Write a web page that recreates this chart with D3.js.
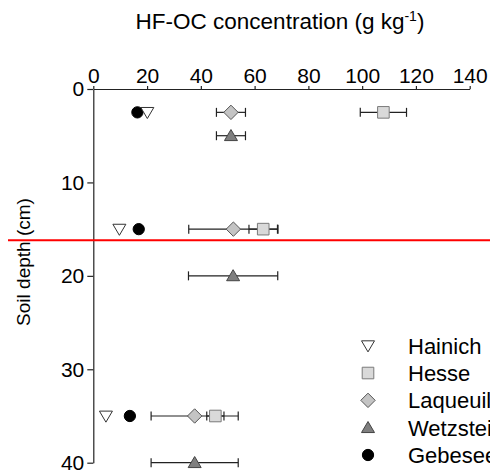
<!DOCTYPE html>
<html>
<head>
<meta charset="utf-8">
<script src="https://cdn.jsdelivr.net/npm/d3@7"></script>
<style>
  html, body { margin: 0; padding: 0; background: #fff; }
  svg { display: block; overflow: hidden; }
  text { font-family: "Liberation Sans", Arial, sans-serif; fill: #000; }
</style>
</head>
<body>
<svg id="chart" width="490" height="476"></svg>
<script>
// HF-OC concentration by soil depth for five sites
const xTicks = [0, 20, 40, 60, 80, 100, 120, 140];
const yTicks = [0, 10, 20, 30, 40];

const hainichDepth = [2.5, 15, 35];
const hainichValue = [20.1, 9.7, 4.7];

const gebeseeDepth = [2.5, 15, 35];
const gebeseeValue = [16.4, 16.9, 13.6];

const laqueuilleDepth = [2.5, 15, 35];
const laqueuilleValue = [51.2, 52.1, 37.7];
const laqueuilleErr = [5.4, 16.6, 16.2];

const hesseDepth = [2.5, 15, 35];
const hesseValue = [107.9, 63.2, 45.4];
const hesseErr = [8.6, 5.3, 3.2];

const wetzsteinDepth = [5, 20, 40];
const wetzsteinValue = [51.2, 52.0, 37.7];
const wetzsteinErr = [5.4, 16.6, 16.2];

const legendNames = ["Hainich", "Hesse", "Laqueuille", "Wetzstein", "Gebesee"];
const markerDepth = 16.2;

const svg = d3.select("#chart");
const W = 490;

const x = d3.scaleLinear().domain([0, 140]).range([93.3, 469.7]);
const y = d3.scaleLinear().domain([0, 40]).range([89, 462.7]);

const TICK_FS = 21;
const LABEL_FS = 22;

// axes
const xAxis = svg.append("g")
  .attr("transform", `translate(0,${y(0)})`)
  .call(d3.axisTop(x).tickValues(xTicks).tickSizeInner(3).tickSizeOuter(0).tickPadding(3));
const yAxis = svg.append("g")
  .attr("transform", `translate(${x(0)},0)`)
  .call(d3.axisLeft(y).tickValues(yTicks).tickSizeInner(6).tickSizeOuter(0).tickPadding(3));
[xAxis, yAxis].forEach(g => {
  g.selectAll("path, line").attr("stroke", "#222").attr("stroke-width", 1.2);
  g.selectAll("text").style("font-size", TICK_FS + "px").style("font-family", "'Liberation Sans', Arial, sans-serif").attr("fill", "#000");
});

// titles
const title = svg.append("text")
  .attr("x", 280).attr("y", 29)
  .attr("text-anchor", "middle").style("font-size", "22.5px");
title.append("tspan").text("HF-OC concentration (g kg");
title.append("tspan").text("-1").attr("dy", -8).style("font-size", "14px");
title.append("tspan").text(")").attr("dy", 8);

svg.append("text")
  .attr("transform", `translate(30,${262}) rotate(-90)`)
  .attr("text-anchor", "middle").style("font-size", "19px")
  .text("Soil depth (cm)");

// marker shapes
const sym = {
  triDown: d => { const s = 6.5; return `M${-s},${-s * 0.75}L${s},${-s * 0.75}L0,${s * 0.95}Z`; },
  triUp: d => { const s = 6.5; return `M${-s},${s * 0.75}L${s},${s * 0.75}L0,${-s * 0.95}Z`; },
  square: d => { const s = 5.8; return `M${-s},${-s}H${s}V${s}H${-s}Z`; },
  diamond: d => { const s = 7.2; return `M${-s},0L0,${-s}L${s},0L0,${s}Z`; },
  circle: d => d3.symbol(d3.symbolCircle, 100)()
};

const styles = {
  triDown: { fill: "#fff", stroke: "#333" },
  square: { fill: "#d9d9d9", stroke: "#7a7a7a" },
  diamond: { fill: "#c4c4c4", stroke: "#555" },
  triUp: { fill: "#7f7f7f", stroke: "#444" },
  circle: { fill: "#000", stroke: "#000" }
};

function errorBars(depths, values, errs) {
  const g = svg.append("g").attr("stroke", "#222").attr("stroke-width", 1.2);
  depths.forEach((dp, i) => {
    const yy = y(dp), x1 = x(values[i] - errs[i]), x2 = x(values[i] + errs[i]);
    g.append("line").attr("x1", x1).attr("x2", x2).attr("y1", yy).attr("y2", yy);
    g.append("line").attr("x1", x1).attr("x2", x1).attr("y1", yy - 4.5).attr("y2", yy + 4.5);
    g.append("line").attr("x1", x2).attr("x2", x2).attr("y1", yy - 4.5).attr("y2", yy + 4.5);
  });
}

function points(depths, values, shape) {
  svg.append("g").selectAll("path").data(depths).join("path")
    .attr("transform", (d, i) => `translate(${x(values[i])},${y(d)})`)
    .attr("d", sym[shape])
    .attr("fill", styles[shape].fill)
    .attr("stroke", styles[shape].stroke)
    .attr("stroke-width", 1);
}

errorBars(laqueuilleDepth, laqueuilleValue, laqueuilleErr);
errorBars(hesseDepth, hesseValue, hesseErr);
errorBars(wetzsteinDepth, wetzsteinValue, wetzsteinErr);

points(gebeseeDepth, gebeseeValue, "circle");
points(hainichDepth, hainichValue, "triDown");
points(laqueuilleDepth, laqueuilleValue, "diamond");
points(hesseDepth, hesseValue, "square");
points(wetzsteinDepth, wetzsteinValue, "triUp");

// legend
const legendShapes = ["triDown", "square", "diamond", "triUp", "circle"];
const legY = d3.scalePoint().domain(legendNames).range([345.7, 455]);
const leg = svg.append("g");
legendNames.forEach((name, i) => {
  const shape = legendShapes[i];
  leg.append("path")
    .attr("transform", `translate(368,${legY(name)})`)
    .attr("d", sym[shape])
    .attr("fill", styles[shape].fill)
    .attr("stroke", styles[shape].stroke);
  leg.append("text")
    .attr("x", 408).attr("y", legY(name)).attr("dy", "0.36em")
    .style("font-size", LABEL_FS + "px").text(name);
});

// horizontal marker line
svg.append("line")
  .attr("x1", 8).attr("x2", W)
  .attr("y1", y(markerDepth)).attr("y2", y(markerDepth))
  .attr("stroke", "#ff0000").attr("stroke-width", 2);
</script>
</body>
</html>
